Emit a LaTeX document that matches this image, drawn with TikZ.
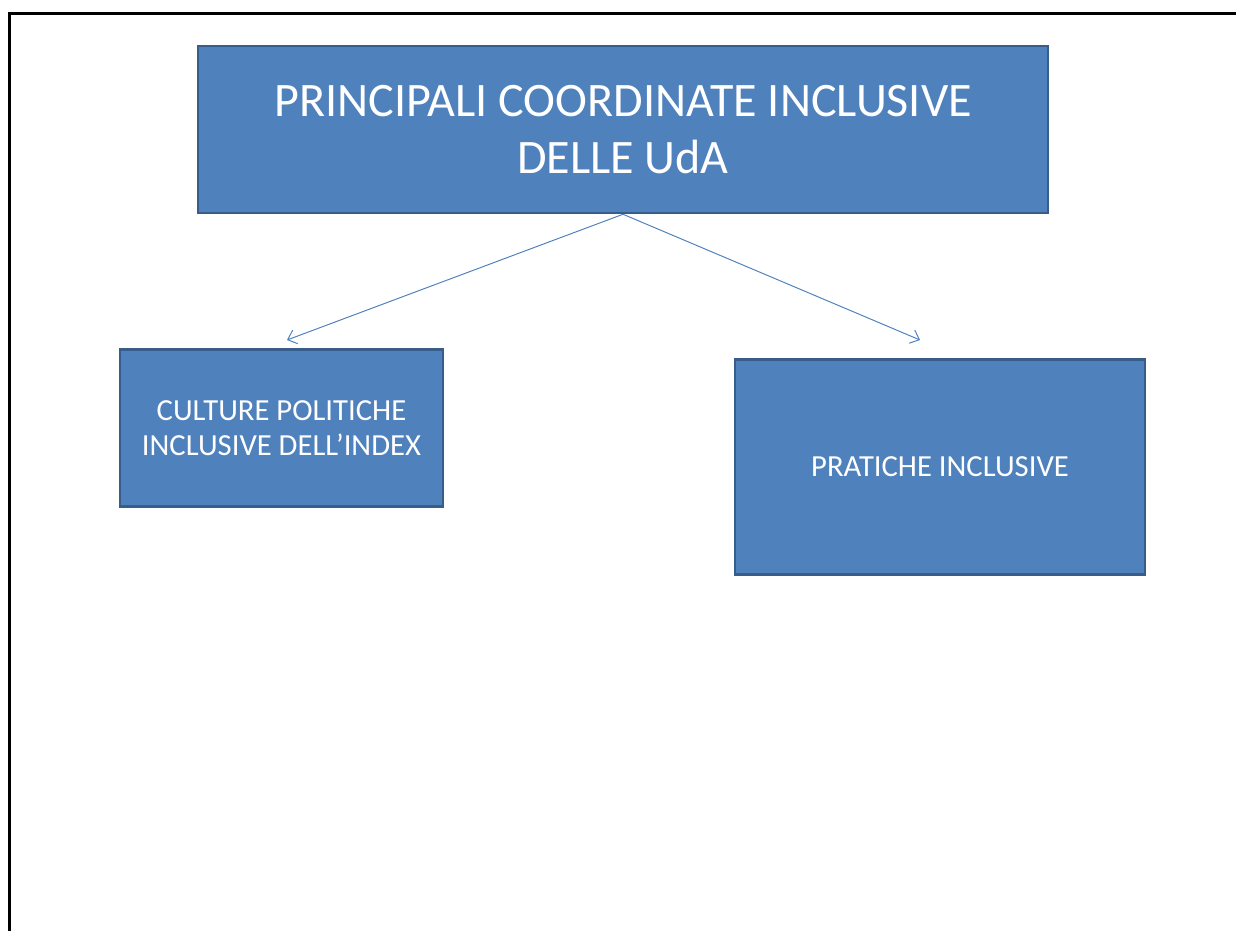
\documentclass[tikz,border=0pt]{standalone}
\usepackage{fontspec}
\setmainfont{Carlito}
\usepackage{tikz}
\usetikzlibrary{arrows.meta,positioning}
\usepackage{xcolor}
\definecolor{boxblue}{RGB}{79,129,189}
\definecolor{boxedge}{RGB}{56,93,138}

\begin{document}
\begin{tikzpicture}[
  block/.style={rectangle, draw=boxedge, line width=1.8pt, fill=boxblue,
    align=center, text=white, inner sep=0pt,
    font=\fontsize{21.8}{25}\selectfont},
  titleblock/.style={block, minimum width=21.25cm, minimum height=4.175cm,
    font=\fontsize{34.2}{40.5}\selectfont},
  arrow/.style={-{Straight Barb[length=2mm, width=3.6mm]}, line width=0.7pt,
    draw=boxblue}
]
% Frame and page size
\useasboundingbox (0,0) rectangle (30.9,-23.275);
\draw[line width=1.9pt] (0.2375,-23.275) -- (0.2375,-0.3375) -- (30.9,-0.3375);

% Title
\node[titleblock] (title) at (15.575,-3.2375)
  {PRINCIPALI COORDINATE INCLUSIVE\\DELLE UdA};

% Two branches
\node[block, minimum width=8.075cm, minimum height=3.925cm,
  below=3.35cm of title, xshift=-8.5375cm]
  (culture) {CULTURE POLITICHE\\INCLUSIVE DELL’INDEX};
\node[block, minimum width=10.25cm, minimum height=5.375cm,
  below=3.6cm of title, xshift=7.925cm]
  (pratiche) {PRATICHE INCLUSIVE};

% Arrow ends
\coordinate (cultureend) at (7.175,-8.5);
\coordinate (praticheend) at (23,-8.5);

% Arrows
\draw[arrow] (title.south) -- (cultureend);
\draw[arrow] (title.south) -- (praticheend);
\end{tikzpicture}
\end{document}
